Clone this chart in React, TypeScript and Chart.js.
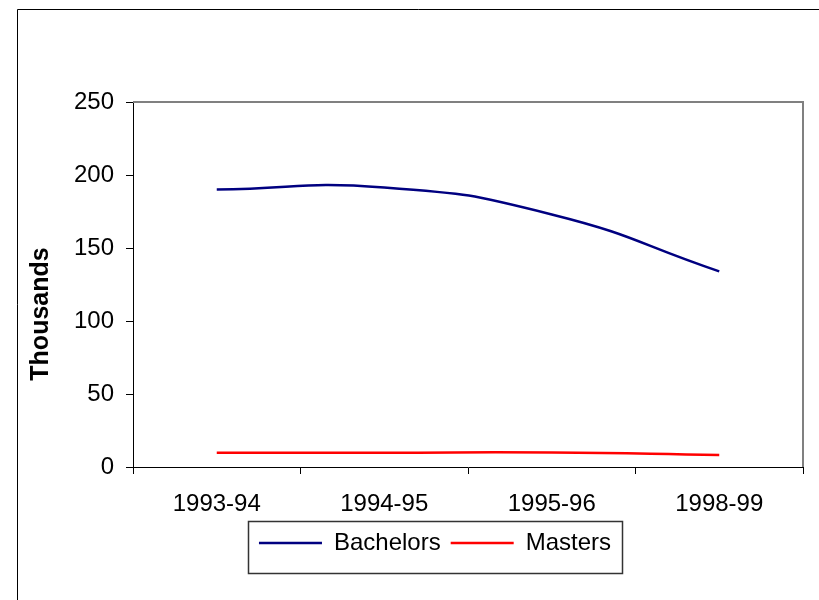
import React, { useEffect, useRef } from "react";
import { Chart, registerables } from "chart.js";

Chart.register(...registerables);

const categories = ["1993-94", "1994-95", "1995-96", "1998-99"];
const bachelors = [190, 191.5, 173, 134];
const masters = [9.8, 9.8, 9.9, 8.2];
const seriesNames = ["Bachelors", "Masters"];
const yMin = 0;
const yMax = 250;
const yStep = 50;
const yTitle = "Thousands";

const FONT = "'Liberation Sans', Arial, Helvetica, sans-serif";

const decor = {
  id: "decor",
  beforeDraw(chart: any) {
    const ctx = chart.ctx;
    ctx.save();
    ctx.fillStyle = "#ffffff";
    ctx.fillRect(0, 0, chart.width, chart.height);
    ctx.strokeStyle = "#000000";
    ctx.lineWidth = 1;
    ctx.beginPath();
    ctx.moveTo(17.5, chart.height);
    ctx.lineTo(17.5, 9.5);
    ctx.lineTo(chart.width, 9.5);
    ctx.stroke();
    ctx.restore();
  },
  beforeDatasetsDraw(chart: any) {
    const { ctx, chartArea: a } = chart;
    ctx.save();
    ctx.strokeStyle = "#808080";
    ctx.lineWidth = 2;
    ctx.beginPath();
    ctx.moveTo(a.left, a.top);
    ctx.lineTo(a.right, a.top);
    ctx.lineTo(a.right, a.bottom);
    ctx.stroke();
    ctx.restore();
  },
  afterLayout(chart: any) {
    const lg = chart.legend;
    if (!lg) return;
    lg.left = 248;
    lg.right = 622;
    lg.width = 374;
    lg.top = 521;
    lg.bottom = 573;
    lg.height = 52;
  },
  afterDraw(chart: any) {
    const ctx = chart.ctx;
    const lg = chart.legend;
    ctx.save();
    if (lg) {
      ctx.strokeStyle = "#333333";
      ctx.lineWidth = 1.5;
      ctx.strokeRect(lg.left + 0.5, lg.top + 0.5, lg.width, lg.height);
    }
    ctx.translate(41, 314);
    ctx.rotate(-Math.PI / 2);
    ctx.font = `bold 25px ${FONT}`;
    ctx.fillStyle = "#000000";
    ctx.textAlign = "center";
    ctx.textBaseline = "middle";
    ctx.fillText(yTitle, 0, 0);
    ctx.restore();
  },
};

export default function App() {
  const ref = useRef<HTMLCanvasElement | null>(null);

  useEffect(() => {
    if (!ref.current) return;
    const chart = new Chart(ref.current, {
      type: "line",
      data: {
        labels: categories,
        datasets: [
          {
            label: seriesNames[0],
            data: bachelors,
            borderColor: "#000080",
            backgroundColor: "#000080",
            borderWidth: 2.5,
            pointRadius: 0,
            pointHoverRadius: 0,
            tension: 0.5,
            fill: false,
          },
          {
            label: seriesNames[1],
            data: masters,
            borderColor: "#ff0000",
            backgroundColor: "#ff0000",
            borderWidth: 2.5,
            pointRadius: 0,
            pointHoverRadius: 0,
            tension: 0.5,
            fill: false,
          },
        ],
      },
      options: {
        responsive: false,
        animation: false,
        devicePixelRatio: 1,
        events: [],
        layout: { padding: { left: 0, top: 102, right: 16, bottom: 0 } },
        plugins: {
          title: { display: false },
          tooltip: { enabled: false },
          legend: {
            display: true,
            position: "bottom",
            labels: {
              usePointStyle: true,
              pointStyle: "line",
              pointStyleWidth: 63,
              padding: 10,
              color: "#000000",
              font: { family: FONT, size: 24 },
            },
          },
        },
        scales: {
          x: {
            type: "category",
            offset: true,
            grid: {
              offset: true,
              drawOnChartArea: false,
              drawTicks: true,
              tickLength: 7,
              tickColor: "#000000",
              tickWidth: 1,
            },
            border: { display: true, color: "#000000", width: 1 },
            ticks: {
              color: "#000000",
              padding: 16,
              maxRotation: 0,
              autoSkip: false,
              font: { family: FONT, size: 24 },
            },
            afterFit: (s: any) => {
              s.height = s.chart.height - 467 - (s.chart.legend ? s.chart.legend.height : 0);
            },
          },
          y: {
            min: yMin,
            max: yMax,
            grid: {
              drawOnChartArea: false,
              drawTicks: true,
              tickLength: 7,
              tickColor: "#000000",
              tickWidth: 1,
            },
            border: { display: true, color: "#000000", width: 1 },
            ticks: {
              stepSize: yStep,
              color: "#000000",
              padding: 12,
              font: { family: FONT, size: 24 },
            },
            afterFit: (s: any) => {
              s.width = 133;
            },
          },
        },
      },
      plugins: [decor],
    });
    return () => chart.destroy();
  }, []);

  return (
    <div style={{ position: "absolute", left: 0, top: 0, width: 819, height: 600 }}>
      <canvas ref={ref} width={819} height={600} style={{ display: "block" }} />
    </div>
  );
}
